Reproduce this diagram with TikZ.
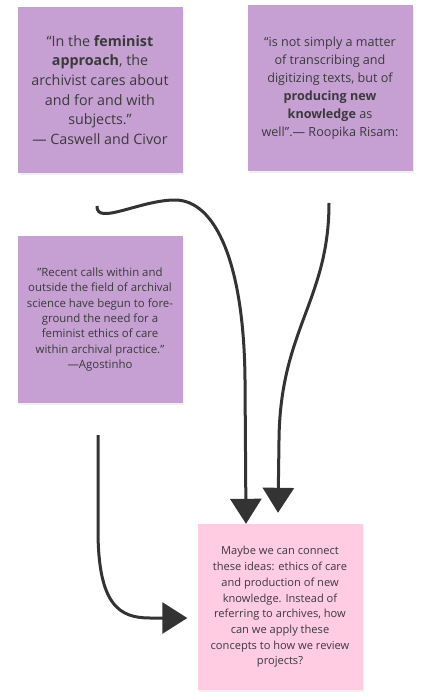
\documentclass[tikz,border=0pt]{standalone}
\usepackage{fontspec}
\setmainfont{Open Sans}
\usetikzlibrary{arrows.meta,shadows}

\definecolor{notepurple}{HTML}{C6A0D3}
\definecolor{notepink}{HTML}{FFCCE1}
\definecolor{inkgray}{HTML}{3A3A3A}
\definecolor{arrowgray}{HTML}{333333}

\tikzset{
  note/.style={fill=notepurple, text=inkgray, align=center,
    minimum width=165pt, minimum height=166pt, inner sep=0pt,
    drop shadow={opacity=0.12, shadow xshift=1pt, shadow yshift=-2pt}},
  pinknote/.style={note, fill=notepink},
  link/.style={draw=arrowgray, line width=3pt,
    -{Triangle[width=31pt,length=25pt]}}
}

\begin{document}
\begin{tikzpicture}[x=1pt, y=-1pt]
    \useasboundingbox (0,0) rectangle (422,698);

    % quotes
    \node[note, font=\fontsize{14.3}{19.7}\selectfont] (caswell) at (100,90) {%
      “In the \textbf{feminist}\\ \textbf{approach}, the\\ archivist cares about\\
      and for and with\\ subjects.”\\ — Caswell and Civor};
    \node[note, font=\fontsize{12.6}{18}\selectfont] (risam) at (330,88) {%
      “is not simply a matter\\ of transcribing and\\ digitizing texts, but of\\
      \textbf{producing new}\\ \textbf{knowledge} as\\ well”.— Roopika Risam:};
    \node[note, minimum height=167pt, font=\fontsize{11.4}{15.3}\selectfont] (agostinho) at (100,319.5) {%
      "Recent calls within and\\ outside the field of archival\\ science have begun to fore-\\
      ground the need for a\\ feminist ethics of care\\ within archival practice."\\ —Agostinho};

    % the question
    \node[pinknote, font=\fontsize{11.1}{15.7}\selectfont] (idea) at (280,607) {%
      Maybe we can connect\\ these ideas: ethics of care\\ and production of new\\
      knowledge. Instead of\\ referring to archives, how\\ can we apply these\\
      concepts to how we review\\ projects?};

    \coordinate (fromcaswell) at (97,206);
    \coordinate (fromrisam) at (329,203);
    \coordinate (fromagostinho) at (98,435);

    \draw[link] (fromcaswell) .. controls (96,226) and (140,200) .. (175,200)
      .. controls (215,200) and (244,262) .. (245,380) -- ([xshift=-34pt]idea.north);
    \draw[link] (fromrisam) .. controls (329,300) and (280,330) .. (279,440)
      -- ([xshift=-2pt,yshift=11pt]idea.north);
    \draw[link] (fromagostinho) -- (98,530) .. controls (98,606) and (120,618) .. (150,618)
      -- ([xshift=-10pt,yshift=-11pt]idea.west);
\end{tikzpicture}
\end{document}
